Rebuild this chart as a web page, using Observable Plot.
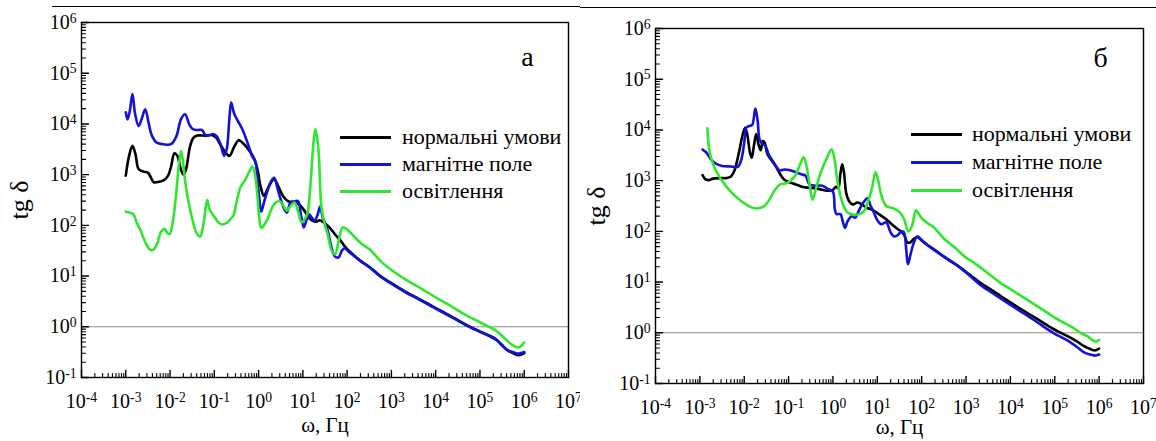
<!DOCTYPE html>
<html><head><meta charset="utf-8">
<script src="https://cdn.jsdelivr.net/npm/d3@7"></script>
<script src="https://cdn.jsdelivr.net/npm/@observablehq/plot@0.6"></script>
<style>
html,body{margin:0;padding:0;background:#fff;}
#root{position:relative;width:1156px;height:441px;overflow:hidden;font-family:"Liberation Serif","Times New Roman",serif;background:#fff;}
.panel{position:absolute;top:0;}
.panel svg{overflow:visible;}
.rule{position:absolute;height:0;border-top:1px solid #000;}
.lg-line{position:absolute;height:3px;}
.lg-text{position:absolute;font-size:22px;line-height:1;white-space:nowrap;color:#000;}
</style></head><body><div id="root"></div>
<script>
// ---- data: pairs of [log10 ω (Hz), log10 tg δ] ----
const seriesNames = ["нормальні умови", "магнітне поле", "освітлення"];
const seriesColors = ["#000000", "#1212d8", "#30e630"];
const xTickExps = [-4, -3, -2, -1, 0, 1, 2, 3, 4, 5, 6, 7];
const yTickExps = [-1, 0, 1, 2, 3, 4, 5, 6];
const panelLabels = ["а", "б"];
const xTitle = "ω, Гц";
const yTitle = "tg δ";

const aNormal = [[-3.0,2.98],[-2.93,3.35],[-2.85,3.57],[-2.78,3.40],[-2.71,3.11],[-2.6,3.06],[-2.5,3.04],[-2.42,2.92],[-2.37,2.85],[-2.25,2.86],[-2.16,2.88],[-2.05,2.97],[-1.98,3.15],[-1.9,3.42],[-1.84,3.38],[-1.76,3.12],[-1.7,3.0],[-1.64,3.1],[-1.55,3.55],[-1.47,3.73],[-1.38,3.77],[-1.2,3.77],[-1.05,3.78],[-0.95,3.72],[-0.87,3.60],[-0.75,3.44],[-0.66,3.37],[-0.55,3.55],[-0.45,3.68],[-0.35,3.62],[-0.25,3.52],[-0.12,3.35],[-0.03,3.12],[0.05,2.75],[0.12,2.58],[0.22,2.75],[0.35,2.91],[0.44,2.78],[0.55,2.58],[0.68,2.47],[0.82,2.45],[0.93,2.40],[1.05,2.27],[1.17,2.12],[1.28,2.07],[1.38,2.10],[1.47,2.06],[1.60,1.96],[1.72,1.83],[1.85,1.70],[1.96,1.57],[2.1,1.45],[2.3,1.30],[2.52,1.17],[2.75,1.0],[3.0,0.86],[3.3,0.70],[3.6,0.56],[4.0,0.37],[4.4,0.18],[4.78,0.0],[5.0,-0.09],[5.2,-0.17],[5.37,-0.25],[5.5,-0.36],[5.62,-0.46],[5.75,-0.52],[5.87,-0.56],[5.95,-0.54],[6.0,-0.52]];
const aMagnet = [[-3.0,4.23],[-2.96,4.09],[-2.91,4.25],[-2.85,4.59],[-2.79,4.2],[-2.71,3.96],[-2.64,4.1],[-2.56,4.29],[-2.48,4.0],[-2.41,3.77],[-2.3,3.63],[-2.15,3.60],[-1.98,3.60],[-1.86,3.75],[-1.75,4.1],[-1.66,4.19],[-1.57,4.0],[-1.49,3.90],[-1.38,3.88],[-1.28,3.88],[-1.2,3.78],[-1.1,3.78],[-1.03,3.80],[-0.95,3.76],[-0.86,3.6],[-0.78,3.37],[-0.72,3.5],[-0.66,4.1],[-0.62,4.42],[-0.55,4.2],[-0.45,4.03],[-0.38,3.92],[-0.3,3.75],[-0.2,3.5],[-0.15,3.37],[-0.07,3.25],[-0.03,2.94],[0.02,2.5],[0.06,2.27],[0.12,2.45],[0.18,2.62],[0.27,2.85],[0.35,2.94],[0.43,2.72],[0.51,2.48],[0.58,2.32],[0.64,2.25],[0.72,2.45],[0.8,2.47],[0.89,2.48],[0.95,2.25],[1.02,1.96],[1.08,2.1],[1.14,2.22],[1.2,2.15],[1.27,2.10],[1.33,2.2],[1.39,2.37],[1.45,2.15],[1.56,1.9],[1.65,1.55],[1.73,1.38],[1.81,1.37],[1.88,1.5],[1.94,1.55],[2.05,1.47],[2.3,1.30],[2.52,1.16],[2.75,0.99],[3.0,0.85],[3.3,0.69],[3.6,0.55],[4.0,0.36],[4.4,0.17],[4.78,-0.01],[5.0,-0.10],[5.2,-0.18],[5.37,-0.26],[5.5,-0.37],[5.62,-0.46],[5.75,-0.50],[5.87,-0.53],[5.95,-0.51],[6.0,-0.50]];
const aLight = [[-3.0,2.27],[-2.9,2.25],[-2.83,2.22],[-2.75,2.05],[-2.66,1.89],[-2.55,1.65],[-2.45,1.52],[-2.38,1.52],[-2.3,1.62],[-2.2,1.88],[-2.12,1.93],[-2.06,1.85],[-2.01,1.83],[-1.95,2.0],[-1.87,2.55],[-1.8,3.2],[-1.75,3.47],[-1.7,3.2],[-1.66,2.88],[-1.58,2.45],[-1.49,2.1],[-1.4,1.85],[-1.32,1.78],[-1.24,2.05],[-1.16,2.5],[-1.1,2.3],[-0.99,2.16],[-0.9,2.05],[-0.82,2.02],[-0.72,2.05],[-0.64,2.12],[-0.57,2.19],[-0.5,2.45],[-0.41,2.75],[-0.3,2.9],[-0.2,3.08],[-0.14,3.16],[-0.08,3.0],[-0.03,2.62],[0.02,2.1],[0.06,1.95],[0.12,2.0],[0.2,2.12],[0.35,2.42],[0.47,2.48],[0.55,2.4],[0.64,2.29],[0.72,2.38],[0.81,2.45],[0.9,2.25],[0.97,2.06],[1.04,2.12],[1.10,2.22],[1.17,2.8],[1.23,3.53],[1.28,3.90],[1.32,3.75],[1.36,3.4],[1.42,2.35],[1.5,2.0],[1.56,1.83],[1.65,1.5],[1.73,1.43],[1.81,1.70],[1.90,1.96],[1.98,1.93],[2.05,1.88],[2.2,1.74],[2.35,1.62],[2.52,1.52],[2.75,1.30],[3.0,1.12],[3.36,0.91],[3.7,0.74],[4.0,0.58],[4.4,0.38],[4.7,0.22],[5.0,0.09],[5.2,0.0],[5.37,-0.08],[5.55,-0.22],[5.7,-0.34],[5.8,-0.39],[5.87,-0.41],[5.95,-0.36],[6.0,-0.31]];

const bNormal = [[-2.94,3.11],[-2.88,3.03],[-2.8,3.01],[-2.7,3.04],[-2.55,3.05],[-2.4,3.05],[-2.3,3.08],[-2.22,3.2],[-2.12,3.55],[-2.05,3.85],[-1.98,4.04],[-1.93,3.9],[-1.87,3.55],[-1.83,3.45],[-1.78,3.7],[-1.73,3.92],[-1.68,3.72],[-1.63,3.6],[-1.58,3.78],[-1.54,3.75],[-1.48,3.53],[-1.4,3.42],[-1.3,3.3],[-1.2,3.14],[-1.1,3.02],[-1.0,2.97],[-0.85,2.93],[-0.7,2.88],[-0.55,2.86],[-0.4,2.85],[-0.24,2.82],[-0.1,2.8],[0.0,2.82],[0.07,2.88],[0.12,2.85],[0.17,3.15],[0.21,3.32],[0.25,3.15],[0.3,2.75],[0.36,2.6],[0.45,2.53],[0.55,2.57],[0.62,2.55],[0.75,2.47],[0.9,2.42],[1.05,2.33],[1.2,2.24],[1.35,2.12],[1.5,2.02],[1.6,1.94],[1.68,1.78],[1.74,1.78],[1.82,1.85],[1.9,1.89],[2.0,1.82],[2.1,1.75],[2.3,1.63],[2.58,1.45],[2.8,1.33],[3.0,1.20],[3.33,0.98],[3.6,0.83],[4.0,0.60],[4.4,0.38],[4.7,0.22],[5.0,0.06],[5.32,-0.08],[5.5,-0.17],[5.65,-0.26],[5.8,-0.32],[5.9,-0.35],[6.0,-0.31]];
const bMagnet = [[-2.94,3.61],[-2.85,3.55],[-2.75,3.42],[-2.65,3.34],[-2.5,3.29],[-2.3,3.28],[-2.15,3.27],[-2.07,3.40],[-2.0,3.75],[-1.95,4.05],[-1.88,4.08],[-1.82,4.10],[-1.75,4.42],[-1.7,4.2],[-1.65,3.80],[-1.58,3.72],[-1.53,3.70],[-1.45,3.52],[-1.38,3.42],[-1.28,3.28],[-1.2,3.2],[-1.1,3.22],[-0.99,3.21],[-0.85,3.17],[-0.7,3.12],[-0.62,3.1],[-0.53,2.93],[-0.4,2.9],[-0.24,2.9],[-0.12,2.84],[0.0,2.78],[0.04,2.45],[0.08,2.34],[0.17,2.34],[0.22,2.2],[0.27,2.07],[0.33,2.2],[0.42,2.3],[0.5,2.27],[0.58,2.4],[0.67,2.55],[0.78,2.65],[0.85,2.5],[0.92,2.38],[1.0,2.22],[1.09,2.14],[1.2,2.18],[1.3,1.98],[1.38,1.9],[1.45,1.92],[1.55,2.0],[1.6,1.98],[1.65,1.65],[1.69,1.35],[1.75,1.55],[1.82,1.77],[1.9,1.9],[2.0,1.83],[2.17,1.70],[2.4,1.56],[2.58,1.46],[2.8,1.33],[3.0,1.19],[3.33,0.94],[3.6,0.78],[4.0,0.55],[4.4,0.33],[4.7,0.15],[5.0,-0.02],[5.2,-0.11],[5.32,-0.17],[5.5,-0.28],[5.65,-0.38],[5.8,-0.43],[5.9,-0.45],[6.0,-0.43]];
const bLight = [[-2.83,4.03],[-2.80,3.70],[-2.75,3.45],[-2.65,3.22],[-2.5,3.0],[-2.3,2.78],[-2.1,2.62],[-1.94,2.52],[-1.8,2.46],[-1.65,2.46],[-1.55,2.5],[-1.45,2.6],[-1.32,2.8],[-1.2,2.92],[-1.05,2.95],[-0.95,3.0],[-0.85,3.1],[-0.75,3.3],[-0.66,3.46],[-0.6,3.3],[-0.53,2.95],[-0.46,2.62],[-0.38,2.85],[-0.28,3.15],[-0.15,3.42],[-0.03,3.62],[0.03,3.45],[0.1,3.0],[0.2,2.6],[0.32,2.38],[0.45,2.33],[0.6,2.34],[0.7,2.40],[0.8,2.62],[0.88,2.85],[0.96,3.17],[1.02,3.0],[1.1,2.68],[1.2,2.5],[1.3,2.47],[1.4,2.44],[1.5,2.38],[1.6,2.25],[1.7,2.0],[1.78,2.1],[1.87,2.42],[1.93,2.35],[2.01,2.25],[2.15,2.15],[2.27,2.08],[2.5,1.86],[2.72,1.70],[3.0,1.48],[3.2,1.37],[3.5,1.17],[3.78,0.98],[4.0,0.86],[4.4,0.64],[4.7,0.47],[5.0,0.30],[5.2,0.20],[5.41,0.10],[5.6,-0.01],[5.74,-0.07],[5.86,-0.15],[5.93,-0.17],[6.0,-0.14]];

const panelA = [aNormal, aMagnet, aLight];
const panelB = [bNormal, bMagnet, bLight];

// ---- helpers ----
function rowsOf(seriesList) {
  const rows = [];
  seriesList.forEach((arr, i) => arr.forEach(([lx, ly]) => rows.push({x: 10 ** lx, y: 10 ** ly, s: seriesNames[i]})));
  return rows;
}
const xMajor = xTickExps.map(e => 10 ** e);
const yMajor = yTickExps.map(e => 10 ** e);
function minors(exps) {
  const out = [];
  for (let i = 0; i < exps.length - 1; i++) for (let m = 2; m <= 9; m++) out.push(m * 10 ** exps[i]);
  return out;
}
const xMinor = minors(xTickExps);
const yMinor = minors(yTickExps);
const fmt = d => `10^${Math.round(Math.log10(d))}`;
// a plain line segment shape for inward tick marks
const stick = {draw(context, l) { context.moveTo(0, 0); context.lineTo(0, -l); }};

function superscripts(svg) {
  const ns = "http://www.w3.org/2000/svg";
  svg.querySelectorAll("text").forEach(t => {
    const m = /^10\^(-?\d+)$/.exec(t.textContent);
    if (!m) return;
    t.textContent = "";
    const a = document.createElementNS(ns, "tspan"); a.textContent = "10";
    const b = document.createElementNS(ns, "tspan"); b.textContent = m[1];
    b.setAttribute("dy", "-0.45em"); b.setAttribute("font-size", "0.68em");
    t.append(a, b);
  });
}

function makePanel(seriesList, cfg) {
  const svg = Plot.plot({
    width: cfg.width, height: 441,
    marginLeft: cfg.ml, marginRight: cfg.mr, marginTop: cfg.mt, marginBottom: cfg.mb,
    x: {type: "log", domain: [1e-4, 1e7]},
    y: {type: "log", domain: [1e-1, 1e6]},
    color: {domain: seriesNames, range: seriesColors},
    style: {fontFamily: "'Liberation Serif','Times New Roman',serif", fontSize: "20px", color: "#000", background: "#fff"},
    marks: [
      Plot.ruleY([1], {stroke: "#8a8a8a", strokeWidth: 1}),
      Plot.line(rowsOf(seriesList), {x: "x", y: "y", z: "s", stroke: "s", strokeWidth: 2.6, curve: "catmull-rom"}),
      Plot.frame({stroke: "#000", strokeWidth: 1.4}),
      Plot.vector(xMajor, {x: d => d, frameAnchor: "bottom", length: 7, rotate: 0, anchor: "start", shape: stick, stroke: "#000", strokeWidth: 1.4}),
      Plot.vector(xMinor, {x: d => d, frameAnchor: "bottom", length: 4, rotate: 0, anchor: "start", shape: stick, stroke: "#000", strokeWidth: 1.1}),
      Plot.vector(yMajor, {y: d => d, frameAnchor: "left", length: 7, rotate: 90, anchor: "start", shape: stick, stroke: "#000", strokeWidth: 1.4}),
      Plot.vector(yMinor, {y: d => d, frameAnchor: "left", length: 4, rotate: 90, anchor: "start", shape: stick, stroke: "#000", strokeWidth: 1.1}),
      Plot.axisX({ticks: xMajor, tickSize: 0, tickPadding: 16, tickFormat: fmt, label: null}),
      Plot.axisY({ticks: yMajor, tickSize: 0, tickPadding: 5, tickFormat: fmt, label: null}),
      Plot.text([cfg.label], {frameAnchor: "top-right", dx: cfg.ldx, dy: cfg.ldy, textAnchor: "middle", lineAnchor: "middle", fontSize: 28}),
      Plot.text([yTitle], {frameAnchor: "left", dx: cfg.ydx, rotate: -90, textAnchor: "middle", lineAnchor: "middle", fontSize: 26}),
      Plot.text([xTitle], {frameAnchor: "bottom", dy: cfg.xdy, textAnchor: "middle", lineAnchor: "middle", fontSize: 21})
    ]
  });
  superscripts(svg);
  return svg;
}

const root = document.getElementById("root");
function addPanel(seriesList, cfg, left) {
  const div = document.createElement("div");
  div.className = "panel"; div.style.left = left + "px";
  div.append(makePanel(seriesList, cfg));
  root.append(div);
}
function addLegend(x1, x2, xt, ys) {
  seriesNames.forEach((name, i) => {
    const l = document.createElement("div");
    l.className = "lg-line";
    l.style.left = x1 + "px"; l.style.width = (x2 - x1) + "px"; l.style.top = (ys[i] - 1.5) + "px";
    l.style.background = seriesColors[i];
    root.append(l);
    const t = document.createElement("div");
    t.className = "lg-text"; t.textContent = name;
    t.style.left = xt + "px"; t.style.top = (ys[i] - 11) + "px";
    root.append(t);
  });
}
function addRule(x1, x2, y) {
  const r = document.createElement("div");
  r.className = "rule"; r.style.left = x1 + "px"; r.style.width = (x2 - x1) + "px"; r.style.top = y + "px";
  root.append(r);
}

addPanel(panelA, {width: 580, ml: 81, mr: 12, mt: 22, mb: 64, label: panelLabels[0], ldx: -41, ldy: 35, ydx: -62, xdy: 48}, 0);
addPanel(panelB, {width: 576, ml: 75, mr: 13, mt: 28, mb: 58, label: panelLabels[1], ldx: -43, ldy: 30, ydx: -59, xdy: 44}, 580);
addLegend(340, 391, 402, [137, 164, 191]);
addLegend(911, 962, 972, [134, 162, 190]);
addRule(52, 580, 6);
addRule(580, 1156, 7);
</script>
</body></html>
